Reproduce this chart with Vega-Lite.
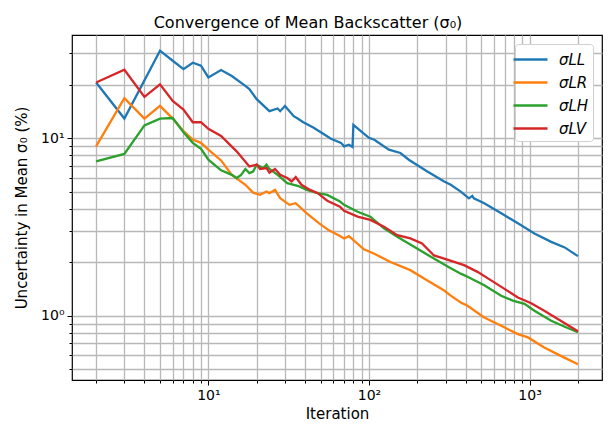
{
  "$schema": "https://vega.github.io/schema/vega-lite/v6.json",
  "width": 530,
  "height": 345,
  "autosize": {"type": "none"},
  "padding": {"left": 72, "top": 35, "right": 11, "bottom": 59},
  "title": {
    "text": "Convergence of Mean Backscatter (σ₀)",
    "fontSize": 16,
    "fontWeight": "normal",
    "color": "#000000",
    "anchor": "middle",
    "dx": -29,
    "dy": 17,
    "offset": 8,
    "baseline": "alphabetic"
  },
  "config": {
    "font": "DejaVu Sans",
    "background": "#ffffff",
    "view": {"stroke": "#000000", "strokeWidth": 1.2}
  },
  "data": {
    "values": [
      {"series": "σLL", "iteration": 2, "uncertainty": 20.6},
      {"series": "σLL", "iteration": 3, "uncertainty": 12.9},
      {"series": "σLL", "iteration": 5, "uncertainty": 31.1},
      {"series": "σLL", "iteration": 6, "uncertainty": 27.3},
      {"series": "σLL", "iteration": 7, "uncertainty": 24.5},
      {"series": "σLL", "iteration": 8, "uncertainty": 26.6},
      {"series": "σLL", "iteration": 9, "uncertainty": 25.6},
      {"series": "σLL", "iteration": 10, "uncertainty": 22.0},
      {"series": "σLL", "iteration": 12, "uncertainty": 24.2},
      {"series": "σLL", "iteration": 14, "uncertainty": 22.4},
      {"series": "σLL", "iteration": 17, "uncertainty": 19.7},
      {"series": "σLL", "iteration": 18, "uncertainty": 18.9},
      {"series": "σLL", "iteration": 20, "uncertainty": 16.6},
      {"series": "σLL", "iteration": 24, "uncertainty": 14.2},
      {"series": "σLL", "iteration": 27, "uncertainty": 14.7},
      {"series": "σLL", "iteration": 28, "uncertainty": 14.2},
      {"series": "σLL", "iteration": 30, "uncertainty": 15.2},
      {"series": "σLL", "iteration": 34, "uncertainty": 13.3},
      {"series": "σLL", "iteration": 36, "uncertainty": 12.9},
      {"series": "σLL", "iteration": 39, "uncertainty": 12.3},
      {"series": "σLL", "iteration": 45, "uncertainty": 11.5},
      {"series": "σLL", "iteration": 51, "uncertainty": 10.7},
      {"series": "σLL", "iteration": 58, "uncertainty": 9.93},
      {"series": "σLL", "iteration": 67, "uncertainty": 9.42},
      {"series": "σLL", "iteration": 70, "uncertainty": 9.0},
      {"series": "σLL", "iteration": 75, "uncertainty": 9.2},
      {"series": "σLL", "iteration": 79, "uncertainty": 8.94},
      {"series": "σLL", "iteration": 80, "uncertainty": 11.9},
      {"series": "σLL", "iteration": 89, "uncertainty": 10.96},
      {"series": "σLL", "iteration": 100, "uncertainty": 10.05},
      {"series": "σLL", "iteration": 108, "uncertainty": 9.8},
      {"series": "σLL", "iteration": 133, "uncertainty": 8.63},
      {"series": "σLL", "iteration": 157, "uncertainty": 8.26},
      {"series": "σLL", "iteration": 177, "uncertainty": 7.57},
      {"series": "σLL", "iteration": 231, "uncertainty": 6.5},
      {"series": "σLL", "iteration": 294, "uncertainty": 5.71},
      {"series": "σLL", "iteration": 323, "uncertainty": 5.47},
      {"series": "σLL", "iteration": 373, "uncertainty": 5.01},
      {"series": "σLL", "iteration": 419, "uncertainty": 4.59},
      {"series": "σLL", "iteration": 440, "uncertainty": 4.74},
      {"series": "σLL", "iteration": 450, "uncertainty": 4.59},
      {"series": "σLL", "iteration": 522, "uncertainty": 4.31},
      {"series": "σLL", "iteration": 666, "uncertainty": 3.78},
      {"series": "σLL", "iteration": 846, "uncertainty": 3.32},
      {"series": "σLL", "iteration": 1072, "uncertainty": 2.91},
      {"series": "σLL", "iteration": 1364, "uncertainty": 2.61},
      {"series": "σLL", "iteration": 1655, "uncertainty": 2.43},
      {"series": "σLL", "iteration": 2000, "uncertainty": 2.17},

      {"series": "σLR", "iteration": 2, "uncertainty": 9.0},
      {"series": "σLR", "iteration": 3, "uncertainty": 16.8},
      {"series": "σLR", "iteration": 4, "uncertainty": 12.9},
      {"series": "σLR", "iteration": 5, "uncertainty": 15.2},
      {"series": "σLR", "iteration": 6, "uncertainty": 12.9},
      {"series": "σLR", "iteration": 7, "uncertainty": 10.95},
      {"series": "σLR", "iteration": 8, "uncertainty": 9.83},
      {"series": "σLR", "iteration": 9, "uncertainty": 9.42},
      {"series": "σLR", "iteration": 10, "uncertainty": 8.63},
      {"series": "σLR", "iteration": 12, "uncertainty": 7.5},
      {"series": "σLR", "iteration": 14, "uncertainty": 6.22},
      {"series": "σLR", "iteration": 17, "uncertainty": 5.47},
      {"series": "σLR", "iteration": 19, "uncertainty": 4.94},
      {"series": "σLR", "iteration": 21, "uncertainty": 4.8},
      {"series": "σLR", "iteration": 23, "uncertainty": 5.01},
      {"series": "σLR", "iteration": 24, "uncertainty": 4.91},
      {"series": "σLR", "iteration": 26, "uncertainty": 5.12},
      {"series": "σLR", "iteration": 28, "uncertainty": 4.6},
      {"series": "σLR", "iteration": 32, "uncertainty": 4.22},
      {"series": "σLR", "iteration": 35, "uncertainty": 4.31},
      {"series": "σLR", "iteration": 41, "uncertainty": 3.78},
      {"series": "σLR", "iteration": 49, "uncertainty": 3.32},
      {"series": "σLR", "iteration": 56, "uncertainty": 3.04},
      {"series": "σLR", "iteration": 66, "uncertainty": 2.82},
      {"series": "σLR", "iteration": 70, "uncertainty": 2.73},
      {"series": "σLR", "iteration": 75, "uncertainty": 2.81},
      {"series": "σLR", "iteration": 93, "uncertainty": 2.37},
      {"series": "σLR", "iteration": 108, "uncertainty": 2.24},
      {"series": "σLR", "iteration": 136, "uncertainty": 2.01},
      {"series": "σLR", "iteration": 181, "uncertainty": 1.81},
      {"series": "σLR", "iteration": 231, "uncertainty": 1.585},
      {"series": "σLR", "iteration": 294, "uncertainty": 1.39},
      {"series": "σLR", "iteration": 323, "uncertainty": 1.3},
      {"series": "σLR", "iteration": 373, "uncertainty": 1.19},
      {"series": "σLR", "iteration": 411, "uncertainty": 1.14},
      {"series": "σLR", "iteration": 522, "uncertainty": 0.98},
      {"series": "σLR", "iteration": 666, "uncertainty": 0.88},
      {"series": "σLR", "iteration": 846, "uncertainty": 0.79},
      {"series": "σLR", "iteration": 978, "uncertainty": 0.757},
      {"series": "σLR", "iteration": 1234, "uncertainty": 0.664},
      {"series": "σLR", "iteration": 1565, "uncertainty": 0.596},
      {"series": "σLR", "iteration": 2000, "uncertainty": 0.535},

      {"series": "σLH", "iteration": 2, "uncertainty": 7.41},
      {"series": "σLH", "iteration": 3, "uncertainty": 8.16},
      {"series": "σLH", "iteration": 4, "uncertainty": 11.8},
      {"series": "σLH", "iteration": 5, "uncertainty": 12.9},
      {"series": "σLH", "iteration": 6, "uncertainty": 13.0},
      {"series": "σLH", "iteration": 7, "uncertainty": 10.8},
      {"series": "σLH", "iteration": 8, "uncertainty": 9.42},
      {"series": "σLH", "iteration": 9, "uncertainty": 8.71},
      {"series": "σLH", "iteration": 10, "uncertainty": 7.57},
      {"series": "σLH", "iteration": 12, "uncertainty": 6.6},
      {"series": "σLH", "iteration": 14, "uncertainty": 6.22},
      {"series": "σLH", "iteration": 15, "uncertainty": 5.97},
      {"series": "σLH", "iteration": 16, "uncertainty": 6.22},
      {"series": "σLH", "iteration": 17, "uncertainty": 6.71},
      {"series": "σLH", "iteration": 18, "uncertainty": 6.37},
      {"series": "σLH", "iteration": 19, "uncertainty": 6.5},
      {"series": "σLH", "iteration": 20, "uncertainty": 7.1},
      {"series": "σLH", "iteration": 22, "uncertainty": 6.8},
      {"series": "σLH", "iteration": 23, "uncertainty": 7.1},
      {"series": "σLH", "iteration": 24, "uncertainty": 6.71},
      {"series": "σLH", "iteration": 27, "uncertainty": 6.22},
      {"series": "σLH", "iteration": 31, "uncertainty": 5.59},
      {"series": "σLH", "iteration": 36, "uncertainty": 5.4},
      {"series": "σLH", "iteration": 41, "uncertainty": 5.12},
      {"series": "σLH", "iteration": 48, "uncertainty": 4.91},
      {"series": "σLH", "iteration": 55, "uncertainty": 4.8},
      {"series": "σLH", "iteration": 66, "uncertainty": 4.4},
      {"series": "σLH", "iteration": 70, "uncertainty": 4.22},
      {"series": "σLH", "iteration": 85, "uncertainty": 3.86},
      {"series": "σLH", "iteration": 102, "uncertainty": 3.62},
      {"series": "σLH", "iteration": 124, "uncertainty": 3.11},
      {"series": "σLH", "iteration": 150, "uncertainty": 2.79},
      {"series": "σLH", "iteration": 191, "uncertainty": 2.45},
      {"series": "σLH", "iteration": 243, "uncertainty": 2.15},
      {"series": "σLH", "iteration": 309, "uncertainty": 1.9},
      {"series": "σLH", "iteration": 373, "uncertainty": 1.73},
      {"series": "σLH", "iteration": 411, "uncertainty": 1.66},
      {"series": "σLH", "iteration": 522, "uncertainty": 1.49},
      {"series": "σLH", "iteration": 666, "uncertainty": 1.3},
      {"series": "σLH", "iteration": 786, "uncertainty": 1.22},
      {"series": "σLH", "iteration": 930, "uncertainty": 1.17},
      {"series": "σLH", "iteration": 1072, "uncertainty": 1.07},
      {"series": "σLH", "iteration": 1364, "uncertainty": 0.94},
      {"series": "σLH", "iteration": 1655, "uncertainty": 0.87},
      {"series": "σLH", "iteration": 2000, "uncertainty": 0.81},

      {"series": "σLV", "iteration": 2, "uncertainty": 20.6},
      {"series": "σLV", "iteration": 3, "uncertainty": 24.3},
      {"series": "σLV", "iteration": 4, "uncertainty": 17.1},
      {"series": "σLV", "iteration": 5, "uncertainty": 20.1},
      {"series": "σLV", "iteration": 6, "uncertainty": 16.2},
      {"series": "σLV", "iteration": 7, "uncertainty": 14.5},
      {"series": "σLV", "iteration": 8, "uncertainty": 12.3},
      {"series": "σLV", "iteration": 9, "uncertainty": 12.3},
      {"series": "σLV", "iteration": 10, "uncertainty": 11.3},
      {"series": "σLV", "iteration": 12, "uncertainty": 10.3},
      {"series": "σLV", "iteration": 15, "uncertainty": 8.44},
      {"series": "σLV", "iteration": 18, "uncertainty": 6.94},
      {"series": "σLV", "iteration": 20, "uncertainty": 7.1},
      {"series": "σLV", "iteration": 21, "uncertainty": 6.71},
      {"series": "σLV", "iteration": 23, "uncertainty": 6.8},
      {"series": "σLV", "iteration": 24, "uncertainty": 6.41},
      {"series": "σLV", "iteration": 26, "uncertainty": 6.71},
      {"series": "σLV", "iteration": 28, "uncertainty": 6.22},
      {"series": "σLV", "iteration": 31, "uncertainty": 5.97},
      {"series": "σLV", "iteration": 33, "uncertainty": 5.71},
      {"series": "σLV", "iteration": 35, "uncertainty": 6.04},
      {"series": "σLV", "iteration": 38, "uncertainty": 5.47},
      {"series": "σLV", "iteration": 43, "uncertainty": 5.12},
      {"series": "σLV", "iteration": 48, "uncertainty": 4.91},
      {"series": "σLV", "iteration": 55, "uncertainty": 4.45},
      {"series": "σLV", "iteration": 66, "uncertainty": 4.12},
      {"series": "σLV", "iteration": 70, "uncertainty": 3.9},
      {"series": "σLV", "iteration": 85, "uncertainty": 3.62},
      {"series": "σLV", "iteration": 102, "uncertainty": 3.47},
      {"series": "σLV", "iteration": 124, "uncertainty": 3.18},
      {"series": "σLV", "iteration": 150, "uncertainty": 2.85},
      {"series": "σLV", "iteration": 181, "uncertainty": 2.73},
      {"series": "σLV", "iteration": 214, "uncertainty": 2.56},
      {"series": "σLV", "iteration": 254, "uncertainty": 2.19},
      {"series": "σLV", "iteration": 294, "uncertainty": 2.1},
      {"series": "σLV", "iteration": 391, "uncertainty": 1.93},
      {"series": "σLV", "iteration": 474, "uncertainty": 1.77},
      {"series": "σLV", "iteration": 576, "uncertainty": 1.585},
      {"series": "σLV", "iteration": 698, "uncertainty": 1.42},
      {"series": "σLV", "iteration": 846, "uncertainty": 1.27},
      {"series": "σLV", "iteration": 1024, "uncertainty": 1.18},
      {"series": "σLV", "iteration": 1234, "uncertainty": 1.07},
      {"series": "σLV", "iteration": 1500, "uncertainty": 0.962},
      {"series": "σLV", "iteration": 2000, "uncertainty": 0.82}
    ]
  },
  "mark": {"type": "line", "strokeWidth": 2.3, "clip": true},
  "encoding": {
    "x": {
      "field": "iteration",
      "type": "quantitative",
      "scale": {"type": "log", "domain": [1.416, 2825], "nice": false},
      "title": "Iteration",
      "axis": {
        "values": [2, 3, 4, 5, 6, 7, 8, 9, 10, 20, 30, 40, 50, 60, 70, 80, 90, 100, 200, 300, 400, 500, 600, 700, 800, 900, 1000, 2000],
        "labelExpr": "datum.value == 10 ? '10¹' : datum.value == 100 ? '10²' : datum.value == 1000 ? '10³' : ''",
        "labelOverlap": false,
        "labelFlush": false,
        "labelFontSize": 14,
        "labelColor": "#000000",
        "labelPadding": 3,
        "grid": true,
        "gridColor": "#b8b8b8",
        "gridWidth": 1.3,
        "domain": false,
        "tickColor": "#000000",
        "tickWidth": 1,
        "tickSize": {"condition": {"test": "datum.value == 10 || datum.value == 100 || datum.value == 1000", "value": 5}, "value": 3},
        "titleFontSize": 15,
        "titleFontWeight": "normal",
        "titleColor": "#000000",
        "titlePadding": 4
      }
    },
    "y": {
      "field": "uncertainty",
      "type": "quantitative",
      "scale": {"type": "log", "domain": [0.436, 38.1], "nice": false},
      "title": "Uncertainty in Mean σ₀ (%)",
      "axis": {
        "values": [0.5, 0.6, 0.7, 0.8, 0.9, 1, 2, 3, 4, 5, 6, 7, 8, 9, 10, 20, 30],
        "labelExpr": "datum.value == 1 ? '10⁰' : datum.value == 10 ? '10¹' : ''",
        "labelOverlap": false,
        "labelFlush": false,
        "labelFontSize": 14,
        "labelColor": "#000000",
        "labelPadding": 3,
        "grid": true,
        "gridColor": "#b8b8b8",
        "gridWidth": 1.3,
        "domain": false,
        "tickColor": "#000000",
        "tickWidth": 1,
        "tickSize": {"condition": {"test": "datum.value == 1 || datum.value == 10", "value": 5}, "value": 3},
        "titleFontSize": 15,
        "titleFontWeight": "normal",
        "titleColor": "#000000",
        "titlePadding": 11
      }
    },
    "color": {
      "field": "series",
      "type": "nominal",
      "scale": {
        "domain": ["σLL", "σLR", "σLH", "σLV"],
        "range": ["#1f77b4", "#ff7f0e", "#2ca02c", "#d62728"]
      },
      "legend": {
        "title": null,
        "orient": "top-right",
        "offset": 9,
        "symbolType": "M-1.7,0H1.7",
        "symbolSize": 400,
        "symbolStrokeWidth": 2.3,
        "labelFontSize": 15,
        "labelFontStyle": "italic",
        "labelColor": "#000000",
        "labelOffset": 17,
        "rowPadding": 3,
        "padding": 4,
        "strokeColor": "#d0d0d0",
        "fillColor": "#ffffff",
        "cornerRadius": 3
      }
    }
  }
}
